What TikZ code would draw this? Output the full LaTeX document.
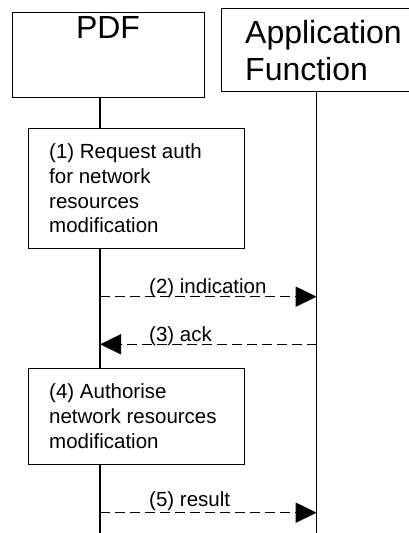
\documentclass[tikz,border=0pt]{standalone}
\usepackage{fontspec}
\setmainfont{Liberation Sans}
\usetikzlibrary{arrows.meta}
\begin{document}
\begin{tikzpicture}[x=1pt,y=-1pt,
  box/.style={draw,line width=1.4pt,inner sep=0pt,anchor=north west},
  life/.style={line width=1.4pt},
  msg/.style={line width=1.4pt,dash pattern=on 10pt off 5pt,-{Triangle[length=21pt,width=20pt]}},
  big/.style={font=\fontsize{32}{36}\selectfont,inner sep=0pt},
  lbl/.style={font=\fontsize{20.5}{25}\selectfont,inner sep=0pt,anchor=base west},
]
\useasboundingbox (0,0) rectangle (409,533);
% entities
\node[box,minimum width=192pt,minimum height=85pt] (pdf) at (12,12) {};
\node[box,minimum width=199pt,minimum height=83pt] (af) at (221,8) {};
\node[big,anchor=base] (pdft) at (108,38) {PDF};
\node[big,anchor=base west] (aft1) at (245,43) {Application};
\node[big,anchor=base west] (aft2) at (245,80) {Function};
% boxes
\node[box,minimum width=216pt,minimum height=120pt] (b1) at (28,128) {};
\node[lbl] (b1a) at (49,158) {(1) Request auth};
\node[lbl] (b1b) at (49,183) {for network};
\node[lbl] (b1c) at (49,208) {resources};
\node[lbl] (b1d) at (49,232) {modification};
\node[box,minimum width=216pt,minimum height=96pt] (b4) at (28,368) {};
\node[lbl] (b4a) at (49,398) {(4) Authorise};
\node[lbl] (b4b) at (49,423) {network resources};
\node[lbl] (b4c) at (49,448) {modification};
% lifeline coordinates
\coordinate (p0) at (100,97);
\coordinate (p1) at (100,128);
\coordinate (p2) at (100,248);
\coordinate (p3) at (100,368);
\coordinate (p4) at (100,464);
\coordinate (pend) at (100,534);
\coordinate (a0) at (316.7,91);
\coordinate (aend) at (316.7,534);
\draw[life] (p0) -- (p1);
\draw[life] (p2) -- (p3);
\draw[life] (p4) -- (pend);
\draw[life] (a0) -- (aend);
% messages
\coordinate (m2s) at (100,296.7);
\coordinate (m2e) at (316.7,296.7);
\coordinate (m3s) at (316.7,344.3);
\coordinate (m3e) at (100,344.3);
\coordinate (m5s) at (100,512.7);
\coordinate (m5e) at (316.7,512.7);
\draw[msg] (m2s) -- (m2e);
\draw[msg] (m3s) -- (m3e);
\draw[msg] (m5s) -- (m5e);
\node[lbl] (l2) at (149,293) {(2) indication};
\node[lbl] (l3) at (149,341) {(3) ack};
\node[lbl] (l5) at (149,506.5) {(5) result};
\end{tikzpicture}
\end{document}
